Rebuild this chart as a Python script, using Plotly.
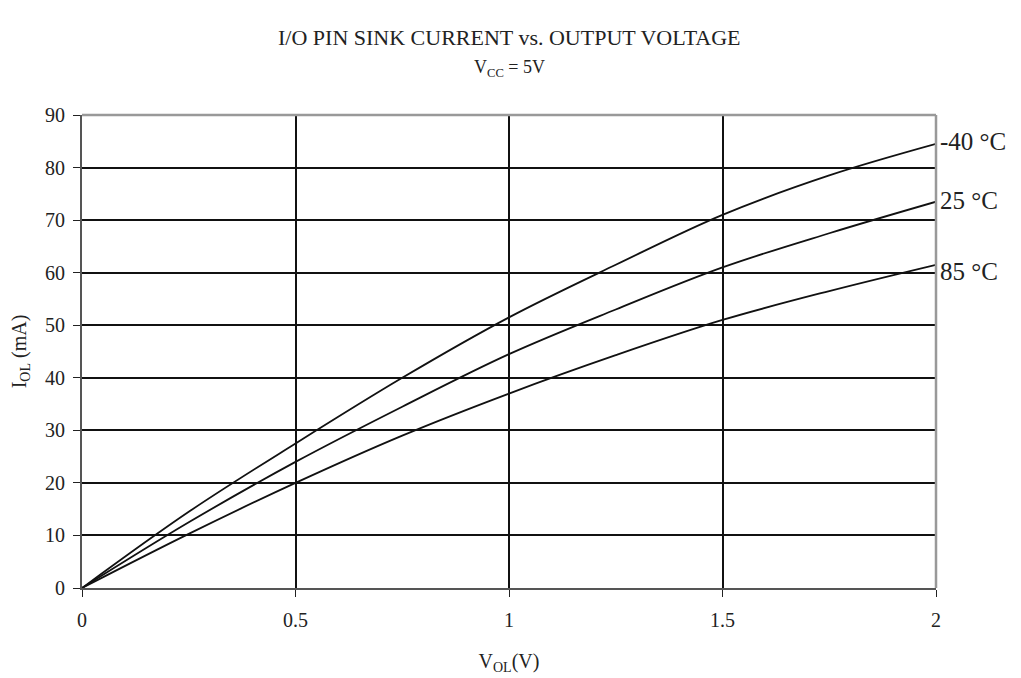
import plotly.graph_objects as go

v_ol = [0, 0.25, 0.5, 0.75, 1.0, 1.25, 1.5, 1.75, 2.0]
i_m40 = [0, 14.5, 27.5, 40, 51.5, 61.5, 71, 78.5, 84.5]
i_25 = [0, 12.5, 24, 34.5, 44.5, 53, 61, 67.5, 73.5]
i_85 = [0, 10.3, 20, 29, 37, 44.3, 51, 56.5, 61.5]

labels = ["-40 °C", "25 °C", "85 °C"]
label_y = [85.0, 73.8, 60.2]

x_ticks = [0, 0.5, 1, 1.5, 2]
x_ticktext = ["0", "0.5", "1", "1.5", "2"]
y_ticks = list(range(0, 91, 10))

font_family = "Liberation Serif"
txt = "#222222"

fig = go.Figure()
for ys in [i_m40, i_25, i_85]:
    fig.add_trace(go.Scatter(x=v_ol, y=ys, mode="lines",
                             line=dict(color="#111111", width=1.8, shape="spline", smoothing=1.0),
                             showlegend=False, hoverinfo="skip"))

for lab, ly in zip(labels, label_y):
    fig.add_annotation(x=2, y=ly, xref="x", yref="y", text=lab, showarrow=False,
                       xanchor="left", yanchor="middle", xshift=2,
                       font=dict(family=font_family, size=25, color=txt))

fig.add_annotation(x=0.5, y=1, xref="paper", yref="paper", yshift=78, yanchor="middle",
                   text="I/O PIN SINK CURRENT vs. OUTPUT VOLTAGE", showarrow=False,
                   font=dict(family=font_family, size=22, color=txt))
fig.add_annotation(x=0.5, y=1, xref="paper", yref="paper", yshift=47, yanchor="middle",
                   text="V<sub>CC</sub> = 5V", showarrow=False,
                   font=dict(family=font_family, size=18, color=txt))

# gray top/right border
fig.add_shape(type="line", xref="paper", yref="paper", x0=0, x1=1, y0=1, y1=1,
              line=dict(color="#999999", width=2.5), layer="above")
fig.add_shape(type="line", xref="paper", yref="paper", x0=1, x1=1, y0=0, y1=1,
              line=dict(color="#999999", width=2.5), layer="above")

fig.update_layout(
    width=1013, height=670,
    margin=dict(l=74, r=85, t=107, b=90),
    plot_bgcolor="white", paper_bgcolor="white",
    font=dict(family=font_family, size=20, color=txt),
    xaxis=dict(range=[0, 2], tickvals=x_ticks, ticktext=x_ticktext,
               showgrid=True, gridcolor="#111111", gridwidth=1.6,
               showline=True, linecolor="#555555", linewidth=2,
               ticks="outside", ticklen=7, tickcolor="#222222", ticklabelstandoff=6,
               zeroline=False, automargin=False,
               title=dict(text="V<sub>OL</sub>(V)", font=dict(size=20), standoff=24)),
    yaxis=dict(range=[0, 90], tickvals=y_ticks,
               showgrid=True, gridcolor="#111111", gridwidth=1.6,
               showline=True, linecolor="#555555", linewidth=2,
               ticks="outside", ticklen=7, tickcolor="#222222", ticklabelstandoff=4,
               zeroline=False, automargin=False,
               title=dict(text="I<sub>OL</sub> (mA)", font=dict(size=20), standoff=18)),
)

fig.write_html("out.html")
